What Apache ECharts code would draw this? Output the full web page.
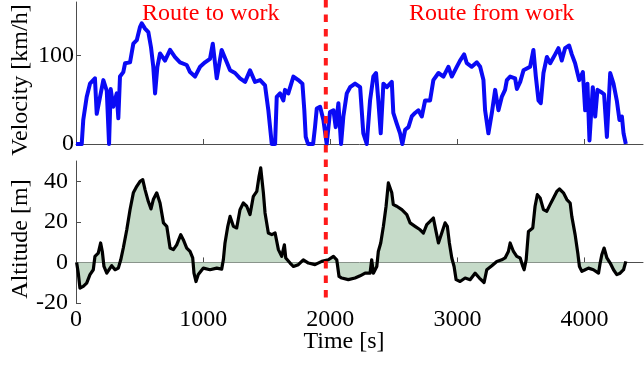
<!DOCTYPE html>
<html>
<head>
<meta charset="utf-8">
<script src="https://cdn.jsdelivr.net/npm/echarts@6/dist/echarts.min.js"></script>
<style>html,body{margin:0;padding:0;background:#fff}#c{width:644px;height:367px}</style>
</head>
<body>
<div id="c"></div>
<script>
// Velocity trace [s], [km/h]
const velTime = [0,45,57,84,110,149,163,215,242,260,273,293,320,333,346,372,386,425,451,478,504,517,543,569,590,608,622,640,661,700,740,779,818,871,897,936,976,1015,1054,1076,1107,1120,1146,1159,1186,1212,1251,1290,1330,1369,1408,1448,1487,1513,1540,1566,1579,1605,1631,1644,1670,1710,1749,1781,1796,1807,1825,1865,1880,1894,1920,1946,1972,1998,2025,2043,2064,2085,2103,2130,2156,2195,2235,2260,2287,2313,2339,2360,2378,2397,2418,2445,2484,2496,2523,2549,2567,2589,2615,2641,2667,2693,2720,2746,2785,2811,2851,2890,2929,2956,2995,3021,3053,3074,3113,3153,3179,3205,3218,3244,3271,3297,3323,3349,3375,3389,3415,3454,3468,3494,3520,3572,3598,3617,3638,3656,3677,3704,3730,3769,3795,3821,3847,3879,3900,3926,3958,3987,4005,4023,4039,4065,4084,4102,4136,4154,4176,4202,4228,4254,4275,4294,4307,4325];
const velValue = [0,0,27,53,68,74,34,72,60,0,62,42,57,29,76,81,91,92,113,117,132,136,130,126,109,87,57,87,102,94,106,98,92,89,81,76,87,92,96,113,74,72,106,108,92,83,80,74,70,83,70,72,66,38,0,0,53,57,49,61,57,76,72,68,38,8,0,0,19,40,42,27,0,36,38,19,46,0,31,57,64,68,64,12,0,49,76,80,49,12,68,64,70,35,23,12,0,16,19,31,35,38,31,49,49,72,80,76,87,76,87,94,101,91,87,92,87,72,38,12,35,61,38,53,61,72,76,74,62,70,83,87,106,76,49,46,80,98,91,101,108,94,108,111,101,91,72,81,38,68,4,64,31,61,58,56,8,80,68,49,27,31,12,0];

// Altitude trace [s], [m]
const altTime = [5,18,31,57,84,110,136,149,175,194,207,220,242,281,307,333,352,372,399,425,451,478,504,525,543,569,590,608,635,661,688,714,740,766,792,824,844,871,897,918,928,944,962,1002,1054,1107,1146,1159,1172,1194,1212,1238,1264,1290,1316,1343,1369,1395,1422,1440,1453,1474,1487,1513,1540,1566,1592,1618,1639,1650,1684,1710,1749,1788,1828,1880,1933,1985,2025,2051,2069,2090,2142,2195,2235,2274,2313,2326,2339,2366,2378,2397,2418,2439,2457,2471,2484,2496,2523,2563,2602,2628,2667,2707,2733,2759,2785,2811,2832,2851,2877,2903,2921,2937,2956,2974,2990,3021,3061,3100,3139,3173,3210,3231,3271,3310,3349,3375,3401,3415,3441,3467,3494,3515,3525,3541,3559,3572,3593,3611,3629,3651,3677,3703,3729,3756,3782,3803,3834,3861,3887,3900,3926,3947,3960,3979,4005,4031,4070,4110,4123,4136,4154,4176,4202,4228,4254,4280,4307,4325];
const altValue = [0,-5.3,-12.7,-11.8,-10.2,-6,-3.6,3,4.6,9.6,5.4,-2,-5.3,-1.6,-3.6,-2.8,1.3,7.1,16,26,34.3,37.5,40,40.8,35.9,30,26.4,31,34.3,29.3,19.5,17.8,7.1,6.3,8.7,13.7,11.2,7.1,5.4,2.2,-5.3,-9.4,-6,-2.8,-3.6,-2.8,-3.3,1.3,9.6,17.8,22.7,17.8,17,26,29.3,27.7,23.6,32.6,35,42.5,46.6,34.3,24.4,14.5,13.7,14.5,6.3,3,8.7,2.2,-0.3,-2,-1.1,1.3,-0.3,-1.1,0.5,1.3,3,1.3,-6.9,-7.7,-8.5,-7.7,-6.6,-5.3,-5.3,1.3,-5.3,-2,5.4,9.6,17.8,27.7,39.2,38.4,34.3,28.5,27.7,26,23.6,19.5,17.8,16.1,14.5,18.6,20.2,21.9,15.3,9.6,14.5,19.5,17.8,9.6,2.2,-2,-8.5,-9.4,-7.7,-8.5,-5.3,-7.7,-9.9,-3.6,-1.6,0.5,1.3,2.2,5.4,9.6,5.4,3,2.2,-2,-3.6,1.3,15.3,16.1,17,27.7,33.4,31.8,26,25.2,28.5,31.8,35,36.2,34.3,31,29.3,22.7,13.7,4.6,-2,-4.4,-3.6,-2.8,-3.6,-5.3,-0.3,3.8,7.1,2.2,-0.3,-3.6,-6,-5.3,-3.6,0.5];

const xTicks = [0, 1000, 2000, 3000, 4000];
const velTicks = [0, 100];
const altTicks = [-20, 0, 20, 40];
const splitTime = 1965;
const titles = ['Route to work', 'Route from work'];

const FONT = '"Liberation Serif", "Times New Roman", serif';
const AX = '#4d4d4d';

const chart = echarts.init(document.getElementById('c'), null, {renderer: 'canvas'});

function xAxisCfg(idx, labels) {
  return {
    type: 'value', gridIndex: idx, min: 0, max: 4460,
    axisLine: {show: true, lineStyle: {color: AX, width: 1}},
    axisTick: {show: true, inside: true, length: 5, customValues: xTicks, lineStyle: {color: AX}},
    axisLabel: {show: labels, customValues: xTicks, formatter: v => String(v), color: '#000', fontFamily: FONT, fontSize: 24, margin: 5},
    splitLine: {show: false}
  };
}
function yAxisCfg(idx, min, max, ticks, margin) {
  return {
    type: 'value', gridIndex: idx, min: min, max: max,
    axisLine: {show: true, onZero: false, lineStyle: {color: AX, width: 1}},
    axisTick: {show: true, inside: true, length: 5, customValues: ticks, lineStyle: {color: AX}},
    axisLabel: {customValues: ticks, formatter: v => String(v), color: '#000', fontFamily: FONT, fontSize: 24, margin: margin},
    splitLine: {show: false}
  };
}

chart.setOption({
  animation: false,
  grid: [
    {left: 76, top: 2, width: 567, height: 142},
    {left: 76, top: 161, width: 567, height: 142}
  ],
  xAxis: [xAxisCfg(0, false), xAxisCfg(1, true)],
  yAxis: [yAxisCfg(0, 0, 160, velTicks, 2), yAxisCfg(1, -20, 50, altTicks, 8)],
  series: [
    {
      type: 'line', xAxisIndex: 0, yAxisIndex: 0, showSymbol: false,
      data: velTime.map((t, i) => [t, velValue[i]]),
      lineStyle: {color: '#0a0af5', width: 4, join: 'round'}, z: 3
    },
    {
      type: 'line', xAxisIndex: 1, yAxisIndex: 1, showSymbol: false,
      data: altTime.map((t, i) => [t, altValue[i]]),
      lineStyle: {color: '#000', width: 3.2, join: 'round'},
      areaStyle: {color: '#c6dbc9', opacity: 1, origin: 0}, z: 3
    }
  ]
});

const sx = chart.convertToPixel({xAxisIndex: 0}, splitTime);
const yBottom = chart.convertToPixel({yAxisIndex: 1}, -20);
const t1x = chart.convertToPixel({xAxisIndex: 0}, 1060);
const t2x = chart.convertToPixel({xAxisIndex: 0}, 3270);

chart.setOption({
  graphic: [
    {type: 'line', z: 100, shape: {x1: sx, y1: 0, x2: sx, y2: yBottom},
     style: {stroke: '#ff1a1a', lineWidth: 4, lineDash: [7.5, 7]}},
    {type: 'text', x: t1x, y: 14, style: {text: titles[0], font: '24px ' + FONT, fill: '#ff0000', align: 'center', verticalAlign: 'middle'}},
    {type: 'text', x: t2x, y: 14, style: {text: titles[1], font: '24px ' + FONT, fill: '#ff0000', align: 'center', verticalAlign: 'middle'}},
    {type: 'text', x: 21, y: 80, rotation: Math.PI / 2, style: {text: 'Velocity [km/h]', font: '24px ' + FONT, fill: '#000', align: 'center', verticalAlign: 'middle'}},
    {type: 'text', x: 21, y: 239, rotation: Math.PI / 2, style: {text: 'Altitude [m]', font: '24px ' + FONT, fill: '#000', align: 'center', verticalAlign: 'middle'}},
    {type: 'text', x: 344, y: 342, style: {text: 'Time [s]', font: '24px ' + FONT, fill: '#000', align: 'center', verticalAlign: 'middle'}}
  ]
});
</script>
</body>
</html>
